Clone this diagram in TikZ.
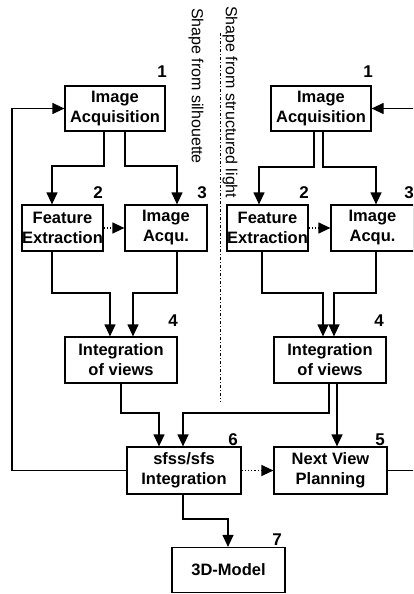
\documentclass[tikz,border=0pt]{standalone}
\usepackage{fontspec}
\setmainfont{Liberation Sans}
\usetikzlibrary{arrows.meta}
\begin{document}
\begin{tikzpicture}[x=1pt,y=-1pt,
  box/.style={draw,line width=1.2pt,inner sep=0pt,align=center,
    font=\fontsize{16.5}{20}\selectfont\bfseries},
  num/.style={inner sep=0pt,font=\fontsize{17}{20}\selectfont\bfseries},
  side/.style={inner sep=0pt,rotate=-90,anchor=west,font=\fontsize{16}{18}\selectfont},
  conn/.style={line width=1.2pt},
  arr/.style={conn,-{Triangle[length=12pt,width=11pt]}},
  darr/.style={conn,dotted,-{Triangle[length=12pt,width=11pt]}}]
\useasboundingbox (0,0) rectangle (413,594);
\clip (0,0) rectangle (413,594);
% boxes
\node[box,minimum width=100pt,minimum height=45pt] (ia1) at (115,108.5) {Image\\Acquisition};
\node[box,minimum width=100pt,minimum height=45pt] (ia2) at (321,108.5) {Image\\Acquisition};
\node[box,minimum width=81pt,minimum height=46pt] (fe1) at (62.5,228) {Feature\\Extraction};
\node[box,minimum width=82pt,minimum height=46pt] (iq1) at (166,228) {Image\\Acqu.};
\node[box,minimum width=81pt,minimum height=46pt] (fe2) at (267.5,228) {Feature\\Extraction};
\node[box,minimum width=83pt,minimum height=46pt] (iq2) at (372.5,228) {Image\\Acqu.};
\node[box,minimum width=112pt,minimum height=46pt] (iv1) at (121,360) {Integration\\of views};
\node[box,minimum width=112pt,minimum height=46pt] (iv2) at (330,360) {Integration\\of views};
\node[box,minimum width=114pt,minimum height=47pt] (sf) at (184,470.5) {sfss/sfs\\Integration};
\node[box,minimum width=113pt,minimum height=47pt] (nv) at (330.5,470.5) {Next View\\Planning};
\node[box,minimum width=113pt,minimum height=45pt] (md) at (228.5,570) {3D-Model};
% numbers
\node[num] (n1a) at (162,72) {1};
\node[num] (n1b) at (368,72) {1};
\node[num] (n2a) at (98,193) {2};
\node[num] (n3a) at (202,193) {3};
\node[num] (n2b) at (304,193) {2};
\node[num] (n3b) at (409,193) {3};
\node[num] (n4a) at (173,321) {4};
\node[num] (n4b) at (379,321) {4};
\node[num] (n6) at (233,440) {6};
\node[num] (n5) at (380,440) {5};
\node[num] (n7) at (277,540) {7};
% side labels and separator
\node[side] (sl) at (196,8) {Shape from silhouette};
\node[side] (st) at (230,6) {Shape from structured light};
\coordinate (septop) at (220,33);
\coordinate (sepbot) at (220,402);
\draw[line width=1pt,dash pattern=on 3pt off 2pt on 1pt off 2pt] (septop) -- (sepbot);
% connectors
\draw[arr] (104,0 |- ia1.south) -- (104,166) -- (52,166) -- (52,0 |- fe1.north);
\draw[arr] (125,0 |- ia1.south) -- (125,166) -- (177,166) -- (177,0 |- iq1.north);
\draw[arr] (314,0 |- ia2.south) -- (314,167) -- (259,167) -- (259,0 |- fe2.north);
\draw[arr] (323,0 |- ia2.south) -- (323,167) -- (376,167) -- (376,0 |- iq2.north);
\draw[darr] (fe1.east) -- (iq1.west);
\draw[darr] (fe2.east) -- (iq2.west);
\draw[arr] (52,0 |- fe1.south) -- (52,293) -- (110,293) -- (110,0 |- iv1.north);
\draw[arr] (177,0 |- iq1.south) -- (177,293) -- (133,293) -- (133,0 |- iv1.north);
\draw[arr] (262,0 |- fe2.south) -- (262,293) -- (323,293) -- (323,0 |- iv2.north);
\draw[arr] (376,0 |- iq2.south) -- (376,293) -- (334,293) -- (334,0 |- iv2.north);
\draw[arr] (121,0 |- iv1.south) -- (121,413) -- (159,413) -- (159,0 |- sf.north);
\draw[arr] (329,0 |- iv2.south) -- (329,413) -- (183,413) -- (183,0 |- sf.north);
\draw[arr] (337,0 |- iv2.south) -- (337,0 |- nv.north);
\draw[darr] (sf.east) -- (nv.west);
\draw[arr] (sf.west) -- (12,0 |- sf.west) -- (12,0 |- ia1.west) -- (ia1.west);
\draw[arr] (nv.east) -- (425,0 |- nv.east) -- (425,0 |- ia2.east) -- (ia2.east);
\draw[arr] (183,0 |- sf.south) -- (183,519) -- (228,519) -- (228,0 |- md.north);
\end{tikzpicture}
\end{document}
